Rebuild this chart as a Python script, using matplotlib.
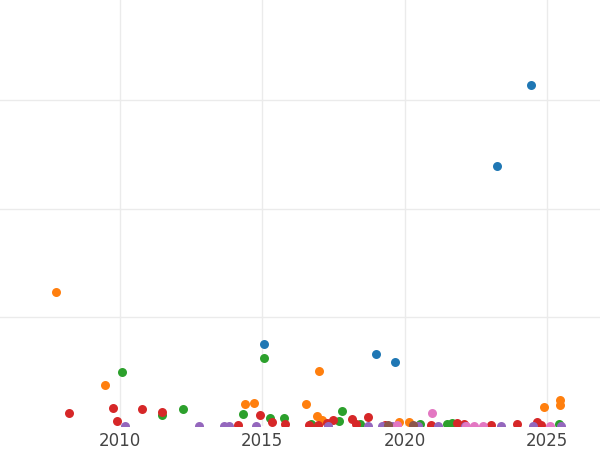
import matplotlib
matplotlib.use("Agg")
import matplotlib.pyplot as plt

# data (year, value) per colour group
blue_x   = [2024.44, 2023.24, 2015.06, 2018.99, 2019.66]
blue_y   = [3.14, 2.39, 0.75, 0.66, 0.59]

orange_x = [2007.75, 2009.47, 2016.99, 2014.39, 2014.71, 2016.53, 2016.92, 2017.10,
            2019.80, 2020.15, 2024.89, 2025.46, 2025.46]
orange_y = [1.23, 0.38, 0.51, 0.20, 0.21, 0.20, 0.09, 0.055,
            0.04, 0.04, 0.175, 0.24, 0.19]

green_x  = [2010.07, 2015.06, 2012.21, 2011.47, 2014.32, 2015.27, 2015.76, 2016.71,
            2017.80, 2017.69, 2018.43, 2020.54, 2021.49, 2021.66, 2025.42]
green_y  = [0.50, 0.63, 0.16, 0.10, 0.11, 0.07, 0.07, 0.02,
            0.14, 0.05, 0.02, 0.02, 0.02, 0.03, 0.02]

red_x    = [2008.21, 2009.75, 2009.90, 2010.77, 2011.48, 2014.14, 2014.92, 2015.34,
            2015.80, 2016.64, 2016.95, 2017.27, 2017.48, 2018.15, 2018.29, 2018.71,
            2019.31, 2020.92, 2021.84, 2022.08, 2023.03, 2023.95, 2024.65, 2024.79]
red_y    = [0.12, 0.165, 0.05, 0.155, 0.13, 0.01, 0.10, 0.04,
            0.02, 0.01, 0.01, 0.03, 0.055, 0.065, 0.02, 0.08,
            0.01, 0.01, 0.03, 0.02, 0.01, 0.02, 0.04, 0.01]

purple_x = [2010.18, 2012.78, 2013.65, 2013.83, 2014.78, 2017.31, 2018.71, 2019.20,
            2019.55, 2020.47, 2021.17, 2022.12, 2023.38, 2024.51, 2025.49]
purple_y = [0.0] * len(purple_x)

brown_x  = [2019.41, 2020.29]
brown_y  = [0.01, 0.01]

pink_x   = [2020.96, 2019.73, 2022.15, 2022.43, 2022.75, 2025.10]
pink_y   = [0.12, 0.01, 0.0, 0.0, 0.0, 0.0]

groups = [
    (blue_x, blue_y, "#1f77b4"),
    (orange_x, orange_y, "#ff7f0e"),
    (green_x, green_y, "#2ca02c"),
    (red_x, red_y, "#d62728"),
    (purple_x, purple_y, "#9467bd"),
    (brown_x, brown_y, "#8c564b"),
    (pink_x, pink_y, "#e377c2"),
]

fig = plt.figure(figsize=(6, 4.5), dpi=100)
ax = fig.add_axes([0, 0.0533, 1, 0.9467])

for xs, ys, c in groups:
    ax.scatter(xs, ys, s=42, color=c, linewidths=0, zorder=3)

ax.set_xlim(2005.785, 2026.86)
ax.set_ylim(0, 3.919)
ax.set_xticks([2010, 2015, 2020, 2025])
ax.set_yticks([1, 2, 3])
ax.set_yticklabels([])
ax.grid(True, color="#ebebeb", linewidth=1, zorder=0)
ax.set_axisbelow(True)
for s in ax.spines.values():
    s.set_visible(False)
ax.tick_params(axis="both", length=0)
ax.tick_params(axis="x", pad=4, labelsize=12, labelcolor="#444444")

fig.savefig("out.png", dpi=100)
